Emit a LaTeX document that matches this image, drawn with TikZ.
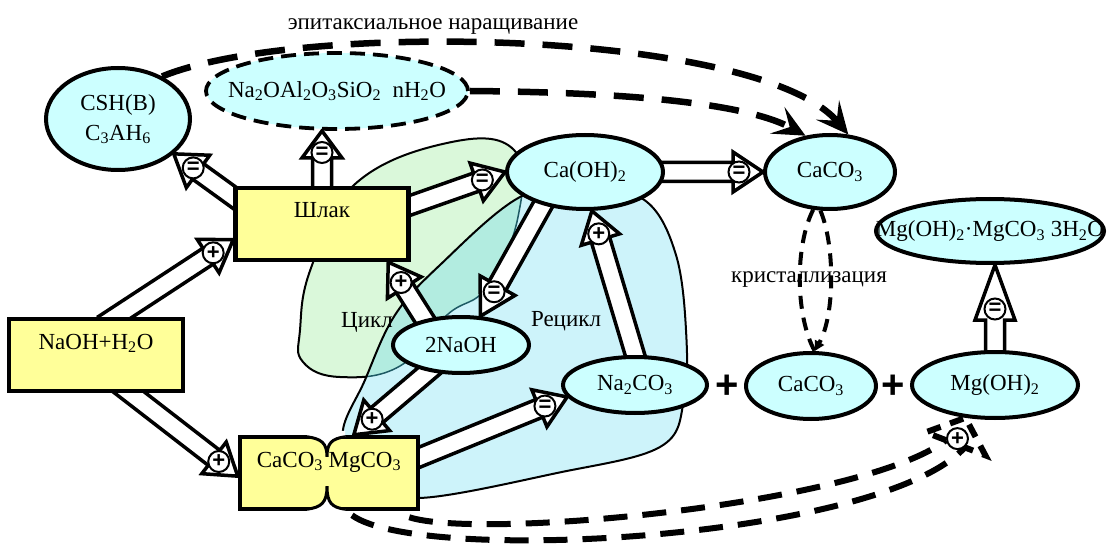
\documentclass[tikz,border=0pt]{standalone}
\usepackage{fontspec}
\setmainfont{Liberation Serif}
\setsansfont{Liberation Sans}
\usetikzlibrary{shapes.geometric,arrows.meta,calc}
\pgfdeclarelayer{blobs}
\pgfdeclarelayer{flows}
\pgfsetlayers{blobs,flows,main}
\definecolor{slagfill}{HTML}{FFFF99}
\definecolor{specfill}{HTML}{CCFFFF}
\definecolor{cyclefill}{HTML}{DAF8DA}
\definecolor{recyclefill}{HTML}{CDF3FA}
\definecolor{overlapfill}{HTML}{B2ECE0}
\definecolor{cycleedge}{HTML}{1E5A64}
\newcommand{\sbs}[1]{\textsubscript{#1}}
\newcommand{\cyclearea}{plot[smooth cycle, tension=0.7] coordinates {(300,330) (311,268) (354,185) (447,143) (514,150) (518,217) (487,287) (447,315) (400,366) (340,377) (303,362)}}
\newcommand{\recyclearea}{plot[smooth cycle, tension=0.6] coordinates {(343,437) (365,380) (395,315) (440,265) (520,197) (590,185) (647,202) (676,255) (686,330) (684,400) (660,447) (557,473) (418,498) (380,475)}}
\tikzstyle{spec} = [ellipse, draw, line width=4pt, fill=specfill, inner sep=0pt]
\tikzstyle{slagbox} = [rectangle, draw, line width=4.5pt, fill=slagfill, text height=27pt, text depth=39pt, inner ysep=3pt, inner xsep=0pt]
\tikzstyle{sgn} = [circle, draw, fill=white, line width=2pt, inner sep=0pt, minimum size=21pt, font=\sffamily\bfseries\fontsize{22}{22}\selectfont]
\tikzstyle{flowbody} = [draw, fill=white, line width=3.5pt, line join=miter]
\tikzstyle{epidash} = [line width=6.5pt, dash pattern=on 30pt off 18pt]
\tikzstyle{crysdash} = [line width=4pt, dash pattern=on 13pt off 9pt]
\tikzstyle{carbdash} = [line width=6pt, dash pattern=on 24pt off 15pt]
\tikzstyle{blobline} = [draw, line width=2pt]
\newcommand{\flow}[5][30pt]{%
  \coordinate (fs) at (#2);
  \coordinate (fe) at (#3);
  \coordinate (fb) at ($(fs)!-14pt!(fe)$);
  \coordinate (fh) at ($(fe)!#1!(fs)$);
  \filldraw[flowbody] ($(fb)!9.5pt!90:(fe)$) -- ($(fh)!9.5pt!-90:(fs)$) -- ($(fh)!20pt!-90:(fs)$) -- (fe)
    -- ($(fh)!20pt!90:(fs)$) -- ($(fh)!9.5pt!90:(fs)$) -- ($(fb)!9.5pt!-90:(fe)$) -- cycle;
  \node[sgn] (#5) at ($(fe)!0.8!(fh)$) {#4};
}

\begin{document}
\begin{tikzpicture}[x=1pt, y=-1pt, font=\fontsize{23}{30}\selectfont]
\useasboundingbox (0,0) rectangle (1108,553);

\begin{pgfonlayer}{blobs}
\fill[cyclefill] \cyclearea;
\draw[blobline] \cyclearea;
\fill[recyclefill] \recyclearea;
\begin{scope}
  \clip \recyclearea;
  \begin{scope}
    \clip \cyclearea;
    \fill[overlapfill] (250,120) rectangle (700,520);
  \end{scope}
  \draw[cycleedge, line width=1.5pt] \cyclearea;
\end{scope}
\draw[blobline] \recyclearea;
\end{pgfonlayer}

\node[spec, minimum width=144pt, minimum height=102pt, align=center] (csh) at (118,119) {CSH(B)\\C\sbs{3}AH\sbs{6}};
\node[spec, dash pattern=on 15pt off 8pt, line width=3.8pt, minimum width=262pt, minimum height=76pt, inner xsep=-40pt] (zeolite) at (337,91) {Na\sbs{2}OAl\sbs{2}O\sbs{3}SiO\sbs{2}~~nH\sbs{2}O};
\node[slagbox, minimum width=173pt] (slag) at (322,224) {Шлак};
\node[slagbox, minimum width=174pt] (alkali) at (96,355) {NaOH+H\sbs{2}O};
\node[slagbox, minimum width=178pt] (dolomite) at (329,473) {CaCO\sbs{3} MgCO\sbs{3}};
\node[spec, minimum width=156pt, minimum height=74pt] (caoh) at (585,172) {Ca(OH)\sbs{2}};
\node[spec, minimum width=130pt, minimum height=74pt] (calcite) at (830,172) {CaCO\sbs{3}};
\node[spec, minimum width=228pt, minimum height=64pt, inner xsep=-40pt] (hydromag) at (990,231) {Mg(OH)\sbs{2}·MgCO\sbs{3} 3H\sbs{2}O};
\node[spec, minimum width=136pt, minimum height=56pt] (naoh) at (461,345) {2NaOH};
\node[spec, minimum width=144pt, minimum height=56pt] (soda) at (635,385) {Na\sbs{2}CO\sbs{3}};
\node[spec, minimum width=130pt, minimum height=66pt] (calcite2) at (811,386) {CaCO\sbs{3}};
\node[spec, minimum width=166pt, minimum height=66pt] (brucite) at (995,385) {Mg(OH)\sbs{2}};

\node[font=\sffamily\bfseries\fontsize{40}{40}\selectfont] (plusA) at (727,387) {+};
\node[font=\sffamily\bfseries\fontsize{40}{40}\selectfont] (plusB) at (893,387) {+};

\node[anchor=base] (epi) at (433,30) {эпитаксиальное наращивание};
\node[anchor=base] (cryst) at (809,283) {кристаллизация};
\node[anchor=base] (cyc) at (367,327) {Цикл};
\node[anchor=base] (recyc) at (566,326) {Рецикл};

\fill[white] ($(dolomite.north)+(-22,-4)$) -- ($(dolomite.north)+(-22,2)$) .. controls ($(dolomite.north)+(-8,4)$) and ($(dolomite.north)+(-2,8)$) .. ($(dolomite.north)+(-2,22)$) .. controls ($(dolomite.north)+(-2,8)$) and ($(dolomite.north)+(3,4)$) .. ($(dolomite.north)+(16,2)$) -- ($(dolomite.north)+(16,-4)$) -- cycle;
\draw[line width=3pt] ($(dolomite.north)+(-22,2)$) .. controls ($(dolomite.north)+(-8,4)$) and ($(dolomite.north)+(-2,8)$) .. ($(dolomite.north)+(-2,22)$) .. controls ($(dolomite.north)+(-2,8)$) and ($(dolomite.north)+(3,4)$) .. ($(dolomite.north)+(16,2)$);
\fill[white] ($(dolomite.south)+(-22,4)$) -- ($(dolomite.south)+(-22,-2)$) .. controls ($(dolomite.south)+(-8,-4)$) and ($(dolomite.south)+(-2,-8)$) .. ($(dolomite.south)+(-2,-25)$) .. controls ($(dolomite.south)+(-2,-8)$) and ($(dolomite.south)+(3,-4)$) .. ($(dolomite.south)+(16,-2)$) -- ($(dolomite.south)+(16,4)$) -- cycle;
\draw[line width=3pt] ($(dolomite.south)+(-22,-2)$) .. controls ($(dolomite.south)+(-8,-4)$) and ($(dolomite.south)+(-2,-8)$) .. ($(dolomite.south)+(-2,-25)$) .. controls ($(dolomite.south)+(-2,-8)$) and ($(dolomite.south)+(3,-4)$) .. ($(dolomite.south)+(16,-2)$);

\begin{pgfonlayer}{flows}
\flow{alkali.63}{slag.190}{+}{sA}
\flow{alkali.-48}{dolomite.182}{+}{sB}
\flow{slag.163}{csh.-32}{=}{sC}
\flow[27pt]{slag.north}{slag.north |- zeolite.south}{=}{sD}
\flow{slag.12}{caoh.west}{=}{sE}
\flow{caoh.east}{calcite.west}{=}{sF}
\flow[35pt]{caoh.218}{naoh.56}{=}{sG}
\flow{soda.north}{caoh.-80}{+}{sH}
\flow{naoh.145}{slag.-30}{+}{sI}
\flow{naoh.219}{dolomite.57}{+}{sJ}
\flow{dolomite.10}{soda.190}{=}{sK}
\flow[55pt]{brucite.north}{brucite.north |- hydromag.south}{=}{sL}
\end{pgfonlayer}

\draw[epidash, -{Stealth[length=32pt, width=30pt, inset=14pt]}] (csh.44) .. controls (300,20) and (760,30) .. (calcite.64);
\draw[epidash, -{Stealth[length=32pt, width=30pt, inset=14pt]}] (zeolite.east) .. controls (600,92) and (740,100) .. (calcite.124);

\draw[crysdash] (calcite.-114) .. controls (795,245) and (795,315) .. (calcite2.84);
\draw[crysdash, -{Triangle[length=10pt, width=10pt]}] (calcite.-104) .. controls (835,245) and (835,315) .. (calcite2.84);

\coordinate (mtip) at (brucite.228);
\coordinate (mback) at ($(mtip)+(-10,26)$);
\coordinate (mleft) at ($(mback)!10pt!90:(mtip)$);
\coordinate (mright) at ($(mback)!10pt!-90:(mtip)$);
\draw[carbdash] ($(dolomite.south east)+(-11,6)$) .. controls (480,540) and (860,505) .. (mleft);
\draw[carbdash] ($(dolomite.south)+(23,4)$) .. controls (420,565) and (880,540) .. (mright);
\draw[carbdash, dash pattern=on 14pt off 10pt] (mleft) -- ($(mback)!32pt!90:(mtip)$) -- (mtip) -- ($(mback)!32pt!-90:(mtip)$) -- (mright);
\node[sgn] (sM) at ($(mtip)!0.8!(mback)$) {+};
\end{tikzpicture}
\end{document}
